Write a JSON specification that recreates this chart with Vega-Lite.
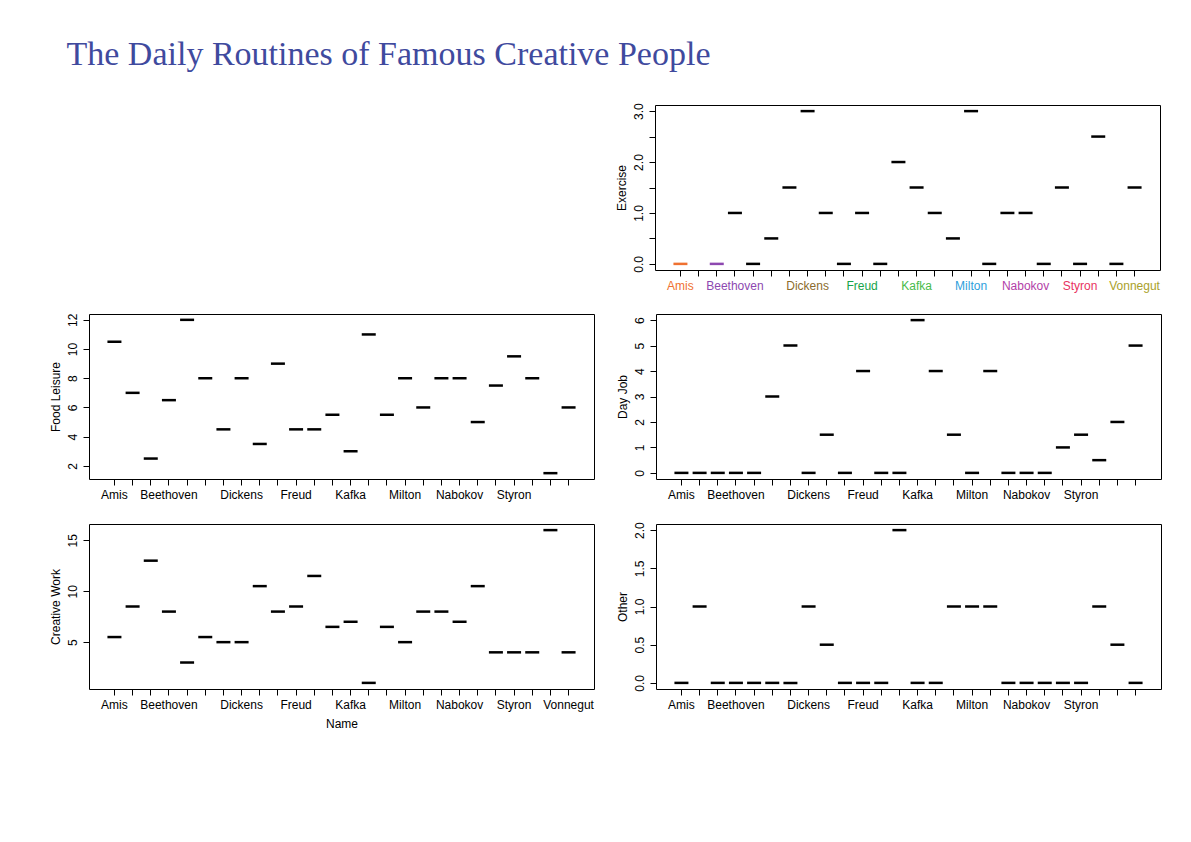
{
  "$schema": "https://vega.github.io/schema/vega-lite/v6.json",
  "padding": {"left": 48, "top": 38, "right": 10, "bottom": 10},
  "title": {"text": "The Daily Routines of Famous Creative People", "anchor": "start", "font": "Liberation Sans Narrow", "fontSize": 34, "fontWeight": "normal", "color": "#3f4a9e", "offset": 30, "dx": 18},
  "config": {
    "font": "Liberation Sans",
    "view": {"stroke": "black", "strokeWidth": 1},
    "axis": {"grid": false, "domain": false, "tickColor": "black", "labelColor": "black", "labelFontSize": 12, "titleFontSize": 12, "titleFontWeight": "normal", "titleColor": "black", "tickSize": 6, "labelPadding": 4},
    "tick": {"color": "black", "thickness": 2.5, "size": 14, "opacity": 1},
    "hconcat": {"spacing": 25},
    "vconcat": {"spacing": 55}
  },
  "datasets": {
    "d": [
      {"i": 1, "name": "Amis", "exercise": 0, "food": 10.5, "job": 0, "creative": 5.5, "other": 0},
      {"i": 2, "name": "Angelou", "exercise": null, "food": 7, "job": 0, "creative": 8.5, "other": 1},
      {"i": 3, "name": "Auden", "exercise": 0, "food": 2.5, "job": 0, "creative": 13, "other": 0},
      {"i": 4, "name": "Beethoven", "exercise": 1, "food": 6.5, "job": 0, "creative": 8, "other": 0},
      {"i": 5, "name": "Bourgeois", "exercise": 0, "food": 12, "job": 0, "creative": 3, "other": 0},
      {"i": 6, "name": "Darwin", "exercise": 0.5, "food": 8, "job": 3, "creative": 5.5, "other": 0},
      {"i": 7, "name": "Descartes", "exercise": 1.5, "food": 4.5, "job": 5, "creative": 5, "other": 0},
      {"i": 8, "name": "Dickens", "exercise": 3, "food": 8, "job": 0, "creative": 5, "other": 1},
      {"i": 9, "name": "Flaubert", "exercise": 1, "food": 3.5, "job": 1.5, "creative": 10.5, "other": 0.5},
      {"i": 10, "name": "Franklin", "exercise": 0, "food": 9, "job": 0, "creative": 8, "other": 0},
      {"i": 11, "name": "Freud", "exercise": 1, "food": 4.5, "job": 4, "creative": 8.5, "other": 0},
      {"i": 12, "name": "Hemingway", "exercise": 0, "food": 4.5, "job": 0, "creative": 11.5, "other": 0},
      {"i": 13, "name": "Joyce", "exercise": 2, "food": 5.5, "job": 0, "creative": 6.5, "other": 2},
      {"i": 14, "name": "Kafka", "exercise": 1.5, "food": 3, "job": 6, "creative": 7, "other": 0},
      {"i": 15, "name": "Mahler", "exercise": 1, "food": 11, "job": 4, "creative": 1, "other": 0},
      {"i": 16, "name": "Matisse", "exercise": 0.5, "food": 5.5, "job": 1.5, "creative": 6.5, "other": 1},
      {"i": 17, "name": "Milton", "exercise": 3, "food": 8, "job": 0, "creative": 5, "other": 1},
      {"i": 18, "name": "Mozart", "exercise": 0, "food": 6, "job": 4, "creative": 8, "other": 1},
      {"i": 19, "name": "Murakami", "exercise": 1, "food": 8, "job": 0, "creative": 8, "other": 0},
      {"i": 20, "name": "Nabokov", "exercise": 1, "food": 8, "job": 0, "creative": 7, "other": 0},
      {"i": 21, "name": "Schiller", "exercise": 0, "food": 5, "job": 0, "creative": 10.5, "other": 0},
      {"i": 22, "name": "Stravinsky", "exercise": 1.5, "food": 7.5, "job": 1, "creative": 4, "other": 0},
      {"i": 23, "name": "Styron", "exercise": 0, "food": 9.5, "job": 1.5, "creative": 4, "other": 0},
      {"i": 24, "name": "Twain", "exercise": 2.5, "food": 8, "job": 0.5, "creative": 4, "other": 1},
      {"i": 25, "name": "Voltaire", "exercise": 0, "food": 1.5, "job": 2, "creative": 16, "other": 0.5},
      {"i": 26, "name": "Vonnegut", "exercise": 1.5, "food": 6, "job": 5, "creative": 4, "other": 0}
    ]
  },
  "vconcat": [
    {
      "hconcat": [
        {"width": 505, "height": 165, "view": {"stroke": null}, "data": {"values": []}, "mark": "point", "encoding": {}},
        {
          "width": 505, "height": 165,
          "data": {"name": "d"},
          "mark": {"type": "tick"},
          "encoding": {
            "x": {"field": "name", "type": "ordinal", "sort": {"field": "i"}, "title": null, "scale": {"paddingOuter": 0.9, "paddingInner": 0},
              "axis": {"labelAngle": 0, "labelOverlap": false, "labelFontSize": 12,
                "labelExpr": "indexof(['Amis','Beethoven','Dickens','Freud','Kafka','Milton','Nabokov','Styron','Vonnegut'], datum.value) >= 0 ? datum.value : ''",
                "labelColor": {"expr": "{'Amis':'#ef7131','Beethoven':'#8d48b0','Dickens':'#8c6c2c','Freud':'#17a34b','Kafka':'#49bb4b','Milton':'#2ea0dc','Nabokov':'#b23ea7','Styron':'#e8335f','Vonnegut':'#aaa12a'}[datum.value]"}}},
            "y": {"field": "exercise", "type": "quantitative", "title": "Exercise", "scale": {"domain": [-0.12, 3.12], "nice": false, "zero": false},
              "axis": {"values": [0, 0.5, 1, 1.5, 2, 2.5, 3], "labelAngle": -90, "labelAlign": "center", "labelBaseline": "bottom", "labelExpr": "datum.value % 1 == 0 ? format(datum.value, '.1f') : ''"}},
            "color": {"condition": [{"test": "datum.name == 'Amis'", "value": "#ef7131"}, {"test": "datum.name == 'Auden'", "value": "#8d48b0"}], "value": "black"}
          }
        }
      ]
    },
    {
      "hconcat": [
        {
          "width": 505, "height": 165, "data": {"name": "d"}, "mark": "tick",
          "encoding": {
            "x": {"field": "name", "type": "ordinal", "sort": {"field": "i"}, "title": null, "scale": {"paddingOuter": 0.9, "paddingInner": 0},
              "axis": {"labelAngle": 0, "labelOverlap": false, "labelExpr": "indexof(['Amis','Beethoven','Dickens','Freud','Kafka','Milton','Nabokov','Styron'], datum.value) >= 0 ? datum.value : ''"}},
            "y": {"field": "food", "type": "quantitative", "title": "Food  Leisure", "scale": {"domain": [1.1, 12.4], "nice": false, "zero": false},
              "axis": {"values": [2, 4, 6, 8, 10, 12], "labelAngle": -90, "labelAlign": "center", "labelBaseline": "bottom"}}
          }
        },
        {
          "width": 505, "height": 165, "data": {"name": "d"}, "mark": "tick",
          "encoding": {
            "x": {"field": "name", "type": "ordinal", "sort": {"field": "i"}, "title": null, "scale": {"paddingOuter": 0.9, "paddingInner": 0},
              "axis": {"labelAngle": 0, "labelOverlap": false, "labelExpr": "indexof(['Amis','Beethoven','Dickens','Freud','Kafka','Milton','Nabokov','Styron'], datum.value) >= 0 ? datum.value : ''"}},
            "y": {"field": "job", "type": "quantitative", "title": "Day Job", "scale": {"domain": [-0.24, 6.24], "nice": false, "zero": false},
              "axis": {"values": [0, 1, 2, 3, 4, 5, 6], "labelAngle": -90, "labelAlign": "center", "labelBaseline": "bottom"}}
          }
        }
      ]
    },
    {
      "hconcat": [
        {
          "width": 505, "height": 165, "data": {"name": "d"}, "mark": "tick",
          "encoding": {
            "x": {"field": "name", "type": "ordinal", "sort": {"field": "i"}, "title": "Name", "scale": {"paddingOuter": 0.9, "paddingInner": 0},
              "axis": {"labelAngle": 0, "labelOverlap": false, "titlePadding": 8, "labelExpr": "indexof(['Amis','Beethoven','Dickens','Freud','Kafka','Milton','Nabokov','Styron','Vonnegut'], datum.value) >= 0 ? datum.value : ''"}},
            "y": {"field": "creative", "type": "quantitative", "title": "Creative Work", "scale": {"domain": [0.4, 16.6], "nice": false, "zero": false},
              "axis": {"values": [5, 10, 15], "labelAngle": -90, "labelAlign": "center", "labelBaseline": "bottom"}}
          }
        },
        {
          "width": 505, "height": 165, "data": {"name": "d"}, "mark": "tick",
          "encoding": {
            "x": {"field": "name", "type": "ordinal", "sort": {"field": "i"}, "title": null, "scale": {"paddingOuter": 0.9, "paddingInner": 0},
              "axis": {"labelAngle": 0, "labelOverlap": false, "labelExpr": "indexof(['Amis','Beethoven','Dickens','Freud','Kafka','Milton','Nabokov','Styron'], datum.value) >= 0 ? datum.value : ''"}},
            "y": {"field": "other", "type": "quantitative", "title": "Other", "scale": {"domain": [-0.08, 2.08], "nice": false, "zero": false},
              "axis": {"values": [0, 0.5, 1, 1.5, 2], "format": ".1f", "labelAngle": -90, "labelAlign": "center", "labelBaseline": "bottom"}}
          }
        }
      ]
    }
  ]
}
